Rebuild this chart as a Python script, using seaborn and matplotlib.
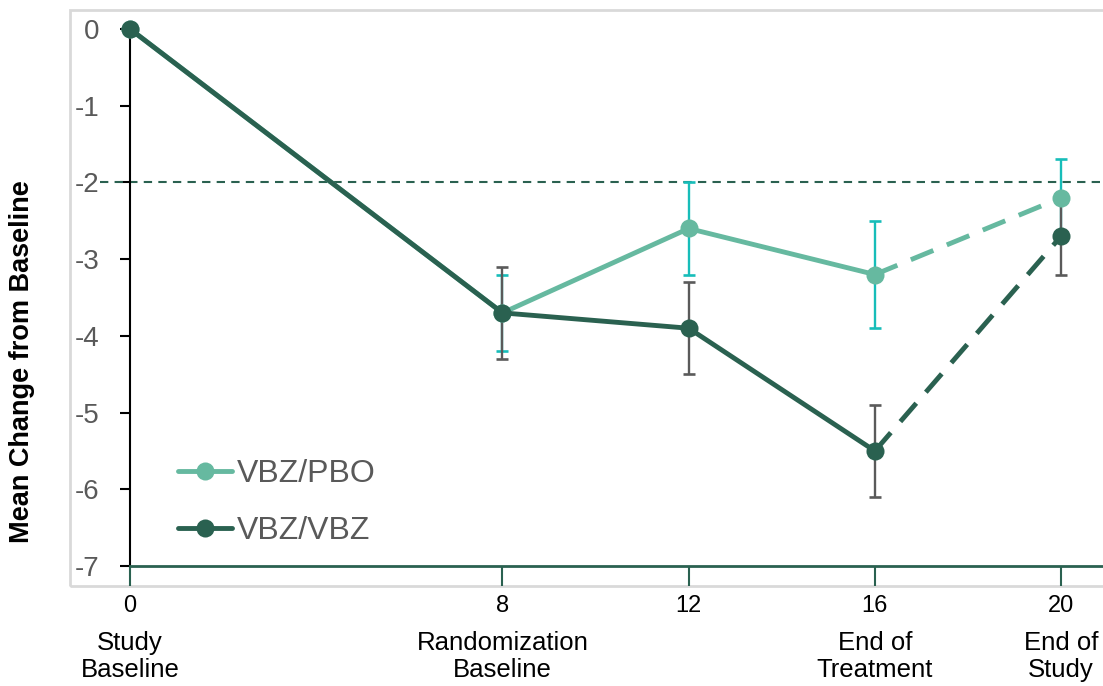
import numpy as np
import pandas as pd
import matplotlib.pyplot as plt
import matplotlib.lines as mlines
from matplotlib.patches import Rectangle
import seaborn as sns

weeks = [0, 8, 12, 16, 20]
week_names = ["Study\nBaseline", "Randomization\nBaseline", "", "End of\nTreatment", "End of\nStudy"]
groups = ["VBZ/PBO", "VBZ/VBZ"]
pbo_mean = [0, -3.7, -2.6, -3.2, -2.2]
pbo_err = [0, 0.5, 0.6, 0.7, 0.5]
vbz_mean = [0, -3.7, -3.9, -5.5, -2.7]
vbz_err = [0, 0.6, 0.6, 0.6, 0.5]
ref_line = -2

line_colors = {"VBZ/PBO": "#66b9a0", "VBZ/VBZ": "#2a6150"}
err_colors = {"VBZ/PBO": "#17bdb9", "VBZ/VBZ": "#5a5a5a"}

df = pd.DataFrame({
    "week": weeks * 2,
    "mean": pbo_mean + vbz_mean,
    "err": pbo_err + vbz_err,
    "group": ["VBZ/PBO"] * 5 + ["VBZ/VBZ"] * 5,
})

sns.set_style("white")
plt.rcParams["font.family"] = ["Liberation Sans", "DejaVu Sans"]
plt.rcParams["text.color"] = "black"

fig = plt.figure(figsize=(11.03, 6.86), dpi=100)
ax = fig.add_axes([70 / 1103, 100 / 686, 1033 / 1103, 576 / 686])

# error bars (gray drawn over cyan)
for g in groups:
    sub = df[(df.group == g) & (df.week > 0)]
    ax.errorbar(sub.week, sub["mean"], yerr=sub.err, fmt="none",
                ecolor=err_colors[g], elinewidth=1.7, capsize=4.5, capthick=1.9, zorder=2)

ax.hlines(ref_line, -0.65, 21, colors="#2a6150", linestyles=(0, (4, 3)), linewidth=1.5, zorder=1)

solid = df[df.week <= 16]
dashed = df[df.week >= 16]
for g in groups:
    sns.lineplot(data=dashed[dashed.group == g], x="week", y="mean", color=line_colors[g],
                 linewidth=3.5, dashes=False, linestyle=(0, (5, 3)), ax=ax, legend=False,
                 errorbar=None, zorder=3)
    sns.lineplot(data=solid[solid.group == g], x="week", y="mean", color=line_colors[g],
                 linewidth=3.5, marker="o", markersize=13, markeredgewidth=0, ax=ax,
                 legend=False, errorbar=None, zorder=4)
    last = df[(df.group == g) & (df.week == 20)]
    ax.plot(last.week, last["mean"], "o", color=line_colors[g], markersize=13,
            markeredgewidth=0, zorder=4)

ax.set_xlim(-1.29, 20.9)
ax.set_ylim(-7.26, 0.248)
ax.set_xticks(weeks)
ax.set_yticks(range(-7, 1))
ax.set_yticklabels([str(v) for v in range(-7, 1)])
ax.set_xlabel("")
ax.set_ylabel("")

for s in ["top", "right"]:
    ax.spines[s].set_visible(False)
ax.spines["left"].set_position(("data", 0))
ax.spines["left"].set_bounds(-7, 0)
ax.spines["left"].set_color("black")
ax.spines["left"].set_linewidth(1.5)
ax.spines["bottom"].set_position(("data", -7))
ax.spines["bottom"].set_bounds(0, 20.9)
ax.spines["bottom"].set_color("#2a6150")
ax.spines["bottom"].set_linewidth(2)

ax.tick_params(axis="y", direction="out", length=7, width=1.5, color="black",
               labelsize=20, labelcolor="#595959", pad=15, left=True)
ax.tick_params(axis="x", direction="out", length=14.5, width=1.5, color="#2a6150",
               labelsize=17, labelcolor="black", pad=6, bottom=True)

# light gray frame
ax.add_patch(Rectangle((0, 0), 1.2, 1, transform=ax.transAxes, fill=False,
                       edgecolor="#d9d9d9", linewidth=2, clip_on=False, zorder=0))

for w, name in zip(weeks, week_names):
    if name:
        ax.text(w, -0.1224, name, transform=ax.get_xaxis_transform(), ha="center", va="center",
                fontsize=18.5, linespacing=1.2, color="black")

fig.text(22 / 1103, 1 - 362 / 686, "Mean Change from Baseline", rotation=90,
         ha="center", va="center", fontsize=19.5, fontweight="bold", color="black")

handles = [mlines.Line2D([], [], color=line_colors[g], linewidth=3.5, marker="o",
                         markersize=13, markeredgewidth=0) for g in groups]
leg = ax.legend(handles, groups, loc="upper left", bbox_to_anchor=(0.1045, 0.221),
                frameon=False, fontsize=23, labelspacing=0.85, handlelength=1.69,
                handletextpad=0.157, borderpad=0, borderaxespad=0)
for t in leg.get_texts():
    t.set_color("#595959")

fig.savefig("out.png", dpi=100)
